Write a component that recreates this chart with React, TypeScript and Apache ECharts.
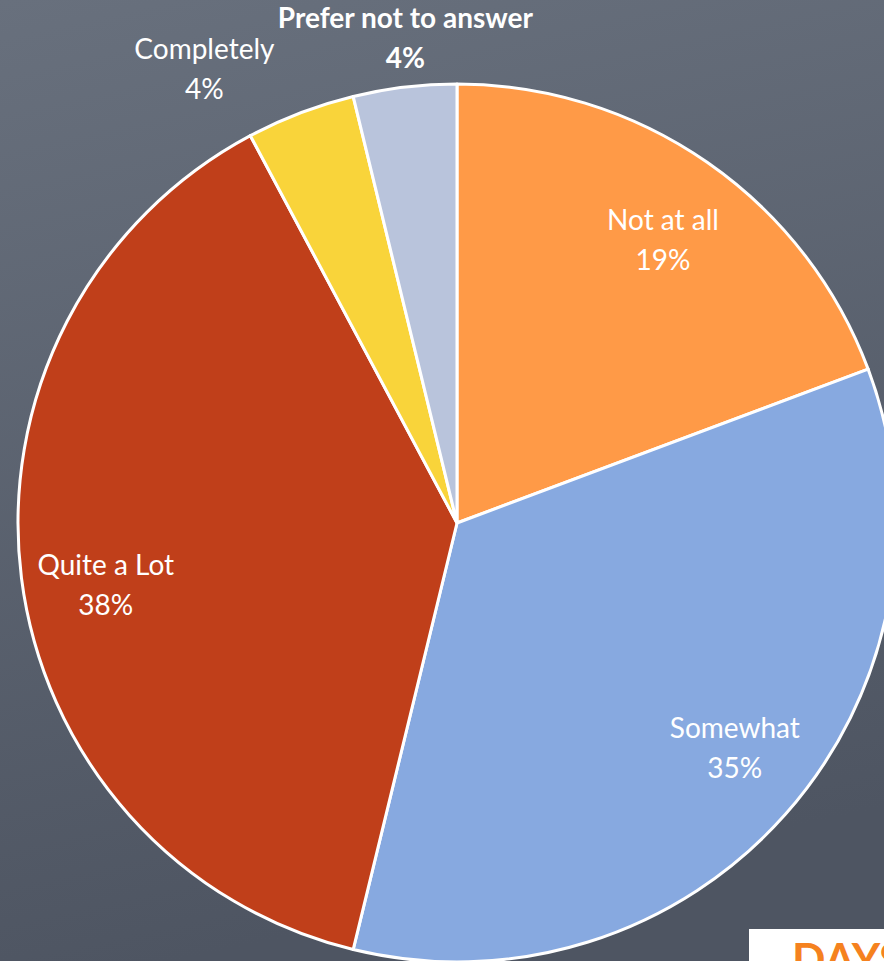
import React, { useEffect, useRef } from "react";
import * as echarts from "echarts";

const categories = ["Not at all", "Somewhat", "Quite a Lot", "Completely", "Prefer not to answer"];
const values = [19.3, 34.5, 38.4, 4.0, 3.8];
const percentLabels = ["19%", "35%", "38%", "4%", "4%"];
const colors = ["#ff9a47", "#87a9e0", "#c03f1a", "#f9d43a", "#b9c4dc"];

export default function App() {
  const ref = useRef<HTMLDivElement>(null);
  useEffect(() => {
    if (!ref.current) return;
    const chart = echarts.init(ref.current, null, { renderer: "svg" });
    const font = "Lato, 'Open Sans', sans-serif";
    const labelOffsets: Record<string, number[]> = {
      "Not at all": [2, 10],
      Somewhat: [10, -14],
      "Quite a Lot": [4, 16],
      Completely: [-125, -121],
      "Prefer not to answer": [-9, -131],
    };
    const mainData = categories.map((c, i) => ({
      name: c,
      value: values[i],
      itemStyle: { color: colors[i] },
    }));
    const labelData = categories.map((c, i) => ({
      name: c,
      value: values[i],
      label: {
        show: true,
        offset: labelOffsets[c],
        formatter: () =>
          c === "Prefer not to answer"
            ? `{b|${c}}\n{b|${percentLabels[i]}}`
            : `${c}\n${percentLabels[i]}`,
      },
    }));
    chart.setOption({
      animation: false,
      backgroundColor: {
        type: "linear",
        x: 0,
        y: 0,
        x2: 0.2,
        y2: 1,
        colorStops: [
          { offset: 0, color: "#68707d" },
          { offset: 1, color: "#4e5562" },
        ],
      },
      series: [
        {
          type: "pie",
          center: [457, 523],
          radius: [0, 439],
          startAngle: 90,
          clockwise: true,
          label: { show: false },
          labelLine: { show: false },
          itemStyle: { borderColor: "#ffffff", borderWidth: 3 },
          emphasis: { disabled: true },
          data: mainData,
        },
        {
          type: "pie",
          center: [457, 523],
          radius: [0, 710],
          startAngle: 90,
          clockwise: true,
          silent: true,
          itemStyle: { color: "rgba(0,0,0,0)", borderWidth: 0 },
          labelLine: { show: false },
          label: {
            position: "inside",
            color: "#ffffff",
            fontFamily: font,
            fontSize: 28,
            lineHeight: 40,
            align: "center",
            rich: {
              b: { fontWeight: "bold", fontSize: 28, lineHeight: 40, color: "#ffffff", fontFamily: font },
            },
          },
          emphasis: { disabled: true },
          data: labelData,
        },
      ],
      graphic: [
        {
          type: "rect",
          left: 749,
          top: 929,
          shape: { width: 140, height: 40 },
          style: { fill: "#ffffff" },
          silent: true,
        },
        {
          type: "text",
          left: 792,
          top: 936,
          style: {
            text: "DAYS",
            fill: "#f5821f",
            font: "bold 44px " + font,
          },
          silent: true,
        },
      ],
    });
    return () => chart.dispose();
  }, []);
  return (
    <div
      ref={ref}
      style={{ position: "fixed", left: 0, top: 0, width: 884, height: 961 }}
    />
  );
}
